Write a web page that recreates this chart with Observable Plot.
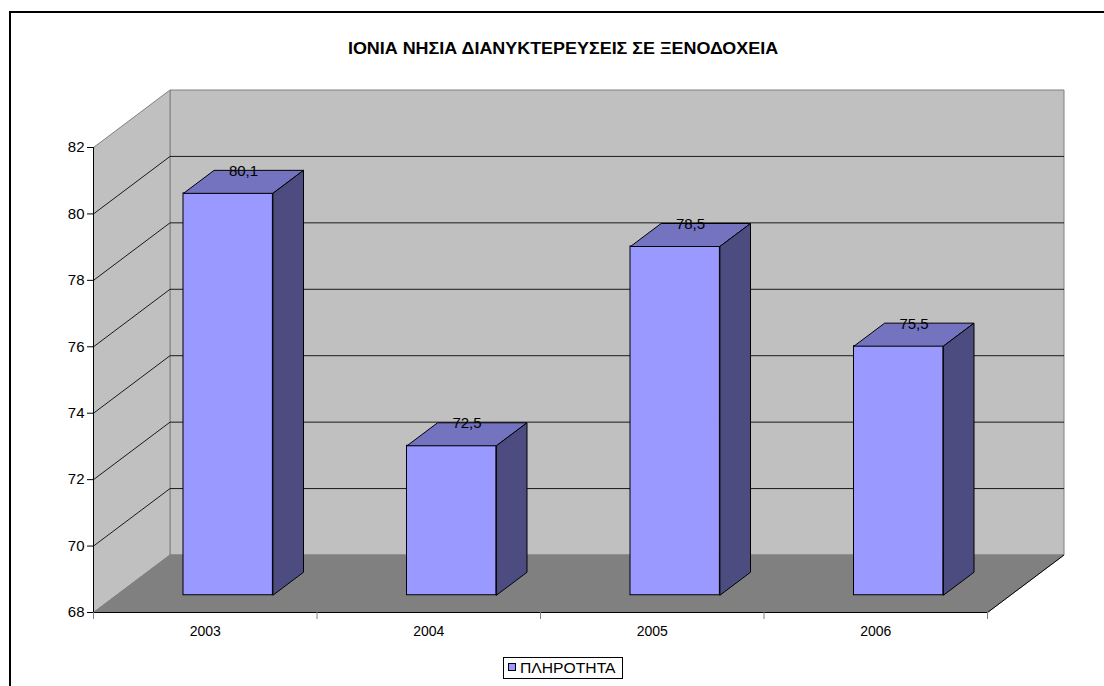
<!DOCTYPE html>
<html>
<head>
<meta charset="utf-8">
<script src="https://cdn.jsdelivr.net/npm/d3@7"></script>
<script src="https://cdn.jsdelivr.net/npm/@observablehq/plot@0.6"></script>
<style>
  html, body { margin: 0; padding: 0; background: #fff; }
  #wrap { position: relative; width: 1104px; height: 686px; overflow: hidden; font-family: "Liberation Sans", Arial, sans-serif; }
  #frame { position: absolute; left: 9px; top: 11px; width: 2000px; height: 2000px; border-left: 2px solid #000; border-top: 2px solid #000; }
  #title { position: absolute; left: 263px; width: 600px; top: 40px; line-height: 18px; font-size: 16px; font-weight: bold; text-align: center; color: #000; transform: scaleX(1.12); transform-origin: 300px 0; white-space: nowrap; }
  #chart { position: absolute; left: 0; top: 60px; }
  #legend { position: absolute; left: 503px; top: 657px; width: 118px; height: 20px; border: 1px solid #000; background: #fff; font-size: 14px; line-height: 20px; color: #000; white-space: nowrap; }
  #legend .sw { position: absolute; left: 4px; top: 5px; width: 6px; height: 6px; border: 1px solid #000; background: #9999ff; }
  #legend .lb { position: absolute; left: 16px; top: 0; transform: scaleX(1.12); transform-origin: 0 0; }
</style>
</head>
<body>
<div id="wrap">
  <div id="frame"></div>
  <div id="title"></div>
  <div id="chart"></div>
  <div id="legend"><span class="sw"></span><span class="lb"></span></div>
</div>
<script>
// ---- data ----
const title = "ΙΟΝΙΑ ΝΗΣΙΑ ΔΙΑΝΥΚΤΕΡΕΥΣΕΙΣ ΣΕ ΞΕΝΟΔΟΧΕΙΑ";
const seriesName = "ΠΛΗΡΟΤΗΤΑ";
const years = ["2003", "2004", "2005", "2006"];
const values = [80.1, 72.5, 78.5, 75.5];
const yTicks = [68, 70, 72, 74, 76, 78, 80, 82];

document.getElementById("title").textContent = title;
document.querySelector("#legend .lb").textContent = seriesName;

// ---- layout ----
const W = 1104, H = 590;
const mL = 93, mR = 117, mT = 87, mB = 38;
const yMin = yTicks[0], yMax = yTicks[yTicks.length - 1];
const xMin = -0.5, xMax = years.length - 0.5;
const pxPerX = (W - mL - mR) / (xMax - xMin);
const pxPerY = (H - mT - mB) / (yMax - yMin);
// 3D depth vector (pixels) converted into data units
const dX = 76.5 / pxPerX, dY = 57.5 / pxPerY;
const f1 = 0.3, f2 = 0.7, half = 0.2;

function poly(id, pts) {
  const out = pts.map(([x, y]) => ({id, x, y}));
  out.push({...out[0]});
  return out;
}

const walls = [
  ...poly("back", [[xMin + dX, yMin + dY], [xMax + dX, yMin + dY], [xMax + dX, yMax + dY], [xMin + dX, yMax + dY]]),
  ...poly("left", [[xMin, yMin], [xMin, yMax], [xMin + dX, yMax + dY], [xMin + dX, yMin + dY]])
];
const floor = poly("floor", [[xMin, yMin], [xMax, yMin], [xMax + dX, yMin + dY], [xMin + dX, yMin + dY]]);

const grid = yTicks.slice(1, -1).flatMap(t => [
  {id: t, x: xMin, y: t},
  {id: t, x: xMin + dX, y: t + dY},
  {id: t, x: xMax + dX, y: t + dY}
]);

const bars = years.map((yr, i) => ({i, year: yr, v: values[i], label: String(values[i]).replace(".", ",")}));

const fronts = bars.map(b => ({
  x1: b.i - half + f1 * dX, x2: b.i + half + f1 * dX,
  y1: yMin + f1 * dY, y2: b.v + f1 * dY
}));
const tops = bars.flatMap(b => poly(b.i, [
  [b.i - half + f1 * dX, b.v + f1 * dY],
  [b.i + half + f1 * dX, b.v + f1 * dY],
  [b.i + half + f2 * dX, b.v + f2 * dY],
  [b.i - half + f2 * dX, b.v + f2 * dY]
]));
const sides = bars.flatMap(b => poly(b.i, [
  [b.i + half + f1 * dX, yMin + f1 * dY],
  [b.i + half + f1 * dX, b.v + f1 * dY],
  [b.i + half + f2 * dX, b.v + f2 * dY],
  [b.i + half + f2 * dX, yMin + f2 * dY]
]));

const lineOpts = {x: "x", y: "y", z: "id", curve: "linear", strokeLinejoin: "miter", strokeLinecap: "butt", strokeWidth: 1};

const plot = Plot.plot({
  width: W, height: H,
  marginLeft: mL, marginRight: mR, marginTop: mT, marginBottom: mB,
  x: {type: "linear", domain: [xMin, xMax], label: null},
  y: {type: "linear", domain: [yMin, yMax], label: null},
  clip: false,
  style: {fontFamily: "'Liberation Sans', Arial, sans-serif", fontSize: "14px", color: "#000", background: "transparent", overflow: "visible"},
  marks: [
    Plot.line(walls, {...lineOpts, fill: "#c0c0c0", stroke: "#808080"}),
    Plot.line(floor, {...lineOpts, fill: "#808080", stroke: "#808080"}),
    Plot.line(grid, {...lineOpts, stroke: "#1a1a1a"}),
    Plot.line([{x: xMax, y: yMin}, {x: xMax + dX, y: yMin + dY}], {...lineOpts, z: null, stroke: "#000"}),
    Plot.ruleY([yMin], {x1: xMin, x2: xMax, stroke: "#000"}),
    Plot.ruleX([xMin], {y1: yMin, y2: yMax, stroke: "#000"}),
    Plot.rect(fronts, {x1: "x1", x2: "x2", y1: "y1", y2: "y2", fill: "#9999ff", stroke: "#000", strokeWidth: 1}),
    Plot.line(tops, {...lineOpts, fill: "#7373bf", stroke: "#000"}),
    Plot.line(sides, {...lineOpts, fill: "#4c4c80", stroke: "#000"}),
    Plot.text(bars, {x: d => d.i + 0.5 * dX, y: d => d.v + 0.5 * dY, text: "label", lineAnchor: "bottom", dy: -6, fontSize: 15, fill: "#000"}),
    Plot.axisY(yTicks, {anchor: "left", tickSize: 6, tickPadding: 3, fontSize: 15, stroke: "#000", fill: "#000", label: null}),
    Plot.axisX(d3.range(years.length + 1).map(k => k - 0.5), {anchor: "bottom", tickSize: 7, tickFormat: () => "", stroke: "#808080", label: null}),
    Plot.axisX(d3.range(years.length), {anchor: "bottom", tickSize: 0, tickPadding: 14, tickFormat: k => years[k], fontSize: 14, fill: "#000", label: null})
  ]
});
document.getElementById("chart").appendChild(plot);
</script>
</body>
</html>
